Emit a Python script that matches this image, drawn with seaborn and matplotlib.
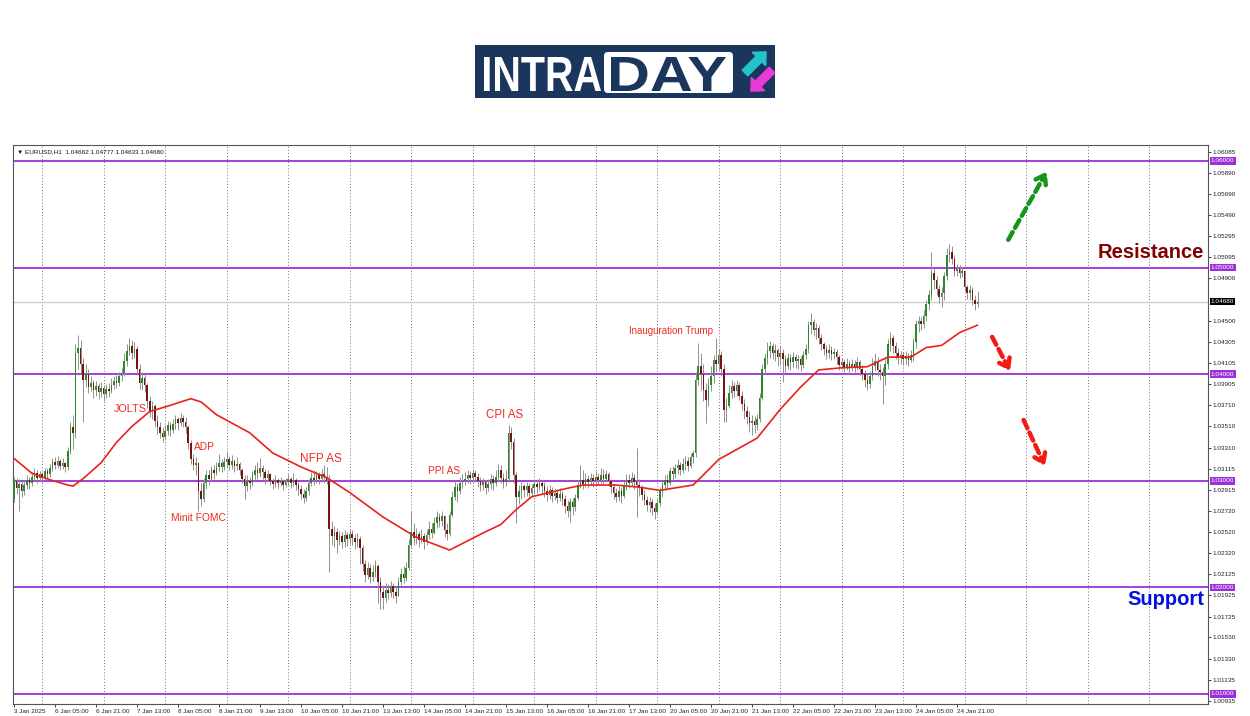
import numpy as np
import pandas as pd
import matplotlib
matplotlib.use("Agg")
import matplotlib.pyplot as plt
import seaborn as sns
from matplotlib.patches import Rectangle, FancyBboxPatch, FancyArrow, PathPatch
from matplotlib.textpath import TextPath
from matplotlib.font_manager import FontProperties
from matplotlib.transforms import Affine2D

# EURUSD H1, bars from 3 Jan 2025 13:00 to 27 Jan 2025 05:00
first_open = 1.0283
closes = [
    1.0300, 1.0293, 1.0297, 1.0290, 1.0296, 1.0301, 1.0298, 1.0304, 1.0307, 1.0303, 1.0306,
    1.0303, 1.0309, 1.0306, 1.0312, 1.0318, 1.0315, 1.0319, 1.0314, 1.0317, 1.0313,
    1.0328, 1.0350, 1.0345, 1.0420, 1.0425, 1.0410, 1.0395, 1.0400, 1.0388, 1.0392,
    1.0385, 1.0389, 1.0383, 1.0387, 1.0381, 1.0386, 1.0384, 1.0390, 1.0394, 1.0392,
    1.0398, 1.0401, 1.0412, 1.0422, 1.0426, 1.0420, 1.0424, 1.0405, 1.0392, 1.0396,
    1.0390, 1.0375, 1.0365, 1.0370, 1.0356, 1.0350, 1.0345, 1.0341, 1.0347, 1.0352,
    1.0348, 1.0353, 1.0358, 1.0354, 1.0359, 1.0355, 1.0350, 1.0335, 1.0320, 1.0315,
    1.0317, 1.0290, 1.0283, 1.0298, 1.0305, 1.0302, 1.0310, 1.0307, 1.0313, 1.0317,
    1.0313, 1.0318, 1.0320, 1.0315, 1.0319, 1.0314, 1.0316, 1.0310, 1.0302, 1.0295,
    1.0300, 1.0298, 1.0305, 1.0310, 1.0307, 1.0312, 1.0308, 1.0303, 1.0306, 1.0300,
    1.0297, 1.0301, 1.0298, 1.0300, 1.0296, 1.0299, 1.0302, 1.0298, 1.0301, 1.0296,
    1.0292, 1.0288, 1.0284, 1.0290, 1.0298, 1.0303, 1.0301, 1.0305, 1.0302, 1.0306,
    1.0304, 1.0300, 1.0255, 1.0248, 1.0252, 1.0244, 1.0248, 1.0243, 1.0249, 1.0245,
    1.0250, 1.0246, 1.0243, 1.0245, 1.0237, 1.0222, 1.0212, 1.0218, 1.0210, 1.0214,
    1.0220, 1.0205, 1.0196, 1.0190, 1.0198, 1.0195, 1.0201, 1.0196, 1.0192, 1.0205,
    1.0213, 1.0209, 1.0218, 1.0240, 1.0252, 1.0246, 1.0250, 1.0244, 1.0248, 1.0243,
    1.0249, 1.0255, 1.0251, 1.0260, 1.0266, 1.0262, 1.0267, 1.0254, 1.0250, 1.0268,
    1.0285, 1.0294, 1.0290, 1.0298, 1.0300, 1.0302, 1.0305, 1.0303, 1.0307, 1.0304,
    1.0300, 1.0296, 1.0299, 1.0293, 1.0297, 1.0302, 1.0298, 1.0304, 1.0310, 1.0303,
    1.0299, 1.0302, 1.0345, 1.0336, 1.0305, 1.0285, 1.0290, 1.0295, 1.0291, 1.0295,
    1.0289, 1.0293, 1.0297, 1.0294, 1.0298, 1.0295, 1.0290, 1.0287, 1.0291, 1.0286,
    1.0289, 1.0284, 1.0288, 1.0283, 1.0276, 1.0272, 1.0280, 1.0275, 1.0284, 1.0296,
    1.0301, 1.0297, 1.0302, 1.0299, 1.0303, 1.0300, 1.0304, 1.0301, 1.0305, 1.0302,
    1.0306, 1.0300, 1.0294, 1.0289, 1.0285, 1.0290, 1.0286, 1.0295, 1.0301, 1.0298,
    1.0303, 1.0299, 1.0296, 1.0293, 1.0287, 1.0282, 1.0277, 1.0280, 1.0274, 1.0271,
    1.0279, 1.0290, 1.0296, 1.0301, 1.0298, 1.0309, 1.0306, 1.0312, 1.0315, 1.0310,
    1.0316, 1.0319, 1.0314, 1.0322, 1.0326, 1.0395, 1.0408, 1.0400, 1.0385, 1.0376,
    1.0390, 1.0398, 1.0413, 1.0410, 1.0418, 1.0405, 1.0366, 1.0370, 1.0382, 1.0389,
    1.0384, 1.0390, 1.0380, 1.0372, 1.0365, 1.0360, 1.0354, 1.0356, 1.0352, 1.0358,
    1.0378, 1.0405, 1.0415, 1.0422, 1.0426, 1.0420, 1.0423, 1.0416, 1.0420, 1.0414,
    1.0408, 1.0415, 1.0411, 1.0416, 1.0412, 1.0414, 1.0409, 1.0418, 1.0424, 1.0446,
    1.0449, 1.0441, 1.0443, 1.0434, 1.0428, 1.0424, 1.0420, 1.0423, 1.0419, 1.0421,
    1.0416, 1.0409, 1.0411, 1.0407, 1.0410, 1.0406, 1.0410, 1.0407, 1.0411, 1.0405,
    1.0400, 1.0395, 1.0391, 1.0398, 1.0408, 1.0412, 1.0404, 1.0402, 1.0398, 1.0410,
    1.0428, 1.0434, 1.0426, 1.0420, 1.0416, 1.0418, 1.0414, 1.0417, 1.0413, 1.0418,
    1.0430, 1.0447, 1.0450, 1.0447, 1.0455, 1.0466, 1.0474, 1.0495, 1.0488, 1.0480,
    1.0472, 1.0476, 1.0492, 1.0512, 1.0515, 1.0508, 1.0497, 1.0499, 1.0495, 1.0497,
    1.0482, 1.0476, 1.0479, 1.0470, 1.0466, 1.0468,
]
highs = [
    1.0304, 1.0303, 1.0302, 1.0300, 1.0301, 1.0305, 1.0304, 1.0308, 1.0312, 1.0310, 1.0309,
    1.0308, 1.0312, 1.0312, 1.0316, 1.0321, 1.0322, 1.0323, 1.0320, 1.0321, 1.0318,
    1.0332, 1.0355, 1.0362, 1.0428, 1.0437, 1.0432, 1.0415, 1.0410, 1.0405, 1.0398,
    1.0395, 1.0394, 1.0392, 1.0393, 1.0390, 1.0391, 1.0392, 1.0396, 1.0398, 1.0399,
    1.0402, 1.0406, 1.0420, 1.0428, 1.0434, 1.0432, 1.0430, 1.0426, 1.0410, 1.0402,
    1.0400, 1.0392, 1.0380, 1.0375, 1.0372, 1.0362, 1.0355, 1.0350, 1.0352, 1.0356,
    1.0355, 1.0358, 1.0362, 1.0360, 1.0364, 1.0362, 1.0360, 1.0352, 1.0338, 1.0325,
    1.0322, 1.0318, 1.0298, 1.0303, 1.0310, 1.0310, 1.0314, 1.0315, 1.0318, 1.0325,
    1.0320, 1.0322, 1.0327, 1.0323, 1.0324, 1.0320, 1.0322, 1.0318, 1.0312, 1.0305,
    1.0305, 1.0304, 1.0309, 1.0315, 1.0318, 1.0321, 1.0315, 1.0311, 1.0310, 1.0307,
    1.0303, 1.0305, 1.0303, 1.0304, 1.0302, 1.0303, 1.0306, 1.0304, 1.0307, 1.0303,
    1.0299, 1.0296, 1.0292, 1.0294, 1.0302, 1.0308, 1.0310, 1.0309, 1.0308, 1.0311,
    1.0315, 1.0313, 1.0305, 1.0262, 1.0258, 1.0256, 1.0253, 1.0252, 1.0254, 1.0252,
    1.0255, 1.0254, 1.0250, 1.0251, 1.0248, 1.0240, 1.0226, 1.0224, 1.0222, 1.0221,
    1.0226, 1.0222, 1.0210, 1.0202, 1.0204, 1.0203, 1.0206, 1.0204, 1.0200, 1.0210,
    1.0218, 1.0220, 1.0224, 1.0245, 1.0272, 1.0260, 1.0256, 1.0253, 1.0255, 1.0251,
    1.0254, 1.0262, 1.0260, 1.0266, 1.0272, 1.0270, 1.0272, 1.0268, 1.0260, 1.0272,
    1.0290, 1.0300, 1.0298, 1.0304, 1.0306, 1.0308, 1.0310, 1.0309, 1.0311, 1.0310,
    1.0307, 1.0304, 1.0303, 1.0301, 1.0302, 1.0306, 1.0305, 1.0310, 1.0316, 1.0315,
    1.0307, 1.0310, 1.0352, 1.0350, 1.0340, 1.0308, 1.0296, 1.0299, 1.0297, 1.0299,
    1.0298, 1.0297, 1.0301, 1.0302, 1.0303, 1.0301, 1.0299, 1.0295, 1.0296, 1.0294,
    1.0293, 1.0292, 1.0293, 1.0290, 1.0287, 1.0282, 1.0284, 1.0284, 1.0288, 1.0301,
    1.0315, 1.0310, 1.0307, 1.0305, 1.0307, 1.0306, 1.0309, 1.0307, 1.0312, 1.0311,
    1.0310, 1.0308, 1.0302, 1.0297, 1.0293, 1.0295, 1.0294, 1.0300, 1.0306, 1.0306,
    1.0308, 1.0306, 1.0331, 1.0302, 1.0296, 1.0291, 1.0286, 1.0285, 1.0283, 1.0279,
    1.0283, 1.0294, 1.0300, 1.0305, 1.0306, 1.0313, 1.0314, 1.0316, 1.0320, 1.0318,
    1.0321, 1.0323, 1.0322, 1.0326, 1.0329, 1.0402, 1.0429, 1.0420, 1.0410, 1.0392,
    1.0396, 1.0408, 1.0418, 1.0434, 1.0424, 1.0422, 1.0410, 1.0378, 1.0390, 1.0395,
    1.0393, 1.0395, 1.0393, 1.0384, 1.0377, 1.0370, 1.0365, 1.0362, 1.0361, 1.0363,
    1.0382, 1.0410, 1.0420, 1.0430, 1.0431, 1.0429, 1.0428, 1.0425, 1.0426, 1.0424,
    1.0418, 1.0420, 1.0419, 1.0421, 1.0419, 1.0418, 1.0417, 1.0422, 1.0428, 1.0450,
    1.0457, 1.0452, 1.0448, 1.0446, 1.0438, 1.0430, 1.0427, 1.0428, 1.0426, 1.0425,
    1.0424, 1.0418, 1.0415, 1.0414, 1.0415, 1.0413, 1.0414, 1.0413, 1.0416, 1.0413,
    1.0409, 1.0404, 1.0400, 1.0403, 1.0415, 1.0420, 1.0416, 1.0410, 1.0407, 1.0415,
    1.0433, 1.0440, 1.0437, 1.0430, 1.0425, 1.0422, 1.0421, 1.0422, 1.0420, 1.0423,
    1.0434, 1.0451, 1.0455, 1.0454, 1.0460, 1.0470, 1.0479, 1.0515, 1.0500, 1.0492,
    1.0484, 1.0482, 1.0496, 1.0518, 1.0522, 1.0520, 1.0512, 1.0503, 1.0502, 1.0501,
    1.0490, 1.0484, 1.0484, 1.0482, 1.0474, 1.0478,
]
lows = [
    1.0280, 1.0288, 1.0272, 1.0285, 1.0287, 1.0292, 1.0292, 1.0295, 1.0300, 1.0298, 1.0300,
    1.0298, 1.0301, 1.0302, 1.0304, 1.0309, 1.0311, 1.0312, 1.0310, 1.0311, 1.0308,
    1.0310, 1.0325, 1.0330, 1.0340, 1.0405, 1.0400, 1.0355, 1.0388, 1.0382, 1.0384,
    1.0378, 1.0380, 1.0377, 1.0379, 1.0375, 1.0378, 1.0379, 1.0382, 1.0386, 1.0387,
    1.0389, 1.0394, 1.0398, 1.0408, 1.0418, 1.0414, 1.0415, 1.0400, 1.0386, 1.0385,
    1.0383, 1.0368, 1.0360, 1.0358, 1.0350, 1.0344, 1.0340, 1.0336, 1.0338, 1.0343,
    1.0342, 1.0345, 1.0349, 1.0348, 1.0351, 1.0350, 1.0345, 1.0330, 1.0316, 1.0310,
    1.0305, 1.0272, 1.0276, 1.0280, 1.0292, 1.0296, 1.0300, 1.0302, 1.0305, 1.0309,
    1.0308, 1.0310, 1.0312, 1.0310, 1.0311, 1.0308, 1.0310, 1.0305, 1.0298, 1.0283,
    1.0290, 1.0292, 1.0295, 1.0301, 1.0302, 1.0304, 1.0302, 1.0297, 1.0300, 1.0296,
    1.0292, 1.0294, 1.0293, 1.0295, 1.0291, 1.0294, 1.0296, 1.0293, 1.0295, 1.0291,
    1.0287, 1.0283, 1.0279, 1.0281, 1.0287, 1.0295, 1.0296, 1.0298, 1.0297, 1.0299,
    1.0298, 1.0297, 1.0214, 1.0240, 1.0238, 1.0232, 1.0240, 1.0237, 1.0238, 1.0239,
    1.0241, 1.0240, 1.0236, 1.0238, 1.0222, 1.0215, 1.0205, 1.0208, 1.0204, 1.0206,
    1.0210, 1.0185, 1.0180, 1.0180, 1.0186, 1.0189, 1.0191, 1.0190, 1.0185, 1.0192,
    1.0202, 1.0204, 1.0206, 1.0216, 1.0238, 1.0240, 1.0241, 1.0238, 1.0242, 1.0236,
    1.0240, 1.0245, 1.0246, 1.0250, 1.0256, 1.0257, 1.0258, 1.0247, 1.0244, 1.0248,
    1.0266, 1.0282, 1.0280, 1.0288, 1.0293, 1.0296, 1.0298, 1.0297, 1.0299, 1.0299,
    1.0294, 1.0290, 1.0291, 1.0288, 1.0290, 1.0292, 1.0291, 1.0295, 1.0300, 1.0298,
    1.0293, 1.0295, 1.0299, 1.0330, 1.0298, 1.0260, 1.0278, 1.0283, 1.0285, 1.0286,
    1.0284, 1.0286, 1.0288, 1.0289, 1.0291, 1.0289, 1.0285, 1.0281, 1.0283, 1.0280,
    1.0282, 1.0279, 1.0281, 1.0277, 1.0270, 1.0266, 1.0261, 1.0268, 1.0272, 1.0282,
    1.0293, 1.0292, 1.0294, 1.0293, 1.0296, 1.0294, 1.0297, 1.0296, 1.0298, 1.0297,
    1.0299, 1.0295, 1.0289, 1.0283, 1.0280, 1.0281, 1.0279, 1.0284, 1.0291, 1.0293,
    1.0295, 1.0292, 1.0266, 1.0286, 1.0282, 1.0277, 1.0272, 1.0271, 1.0268, 1.0264,
    1.0270, 1.0276, 1.0285, 1.0291, 1.0293, 1.0296, 1.0301, 1.0303, 1.0306, 1.0305,
    1.0307, 1.0310, 1.0309, 1.0312, 1.0317, 1.0322, 1.0390, 1.0385, 1.0375, 1.0354,
    1.0370, 1.0384, 1.0392, 1.0402, 1.0404, 1.0398, 1.0355, 1.0355, 1.0368, 1.0378,
    1.0379, 1.0380, 1.0376, 1.0366, 1.0358, 1.0353, 1.0346, 1.0343, 1.0345, 1.0348,
    1.0355, 1.0376, 1.0400, 1.0410, 1.0415, 1.0414, 1.0412, 1.0408, 1.0410, 1.0393,
    1.0402, 1.0405, 1.0404, 1.0407, 1.0406, 1.0405, 1.0403, 1.0406, 1.0414, 1.0420,
    1.0438, 1.0436, 1.0433, 1.0428, 1.0423, 1.0418, 1.0414, 1.0415, 1.0413, 1.0414,
    1.0410, 1.0404, 1.0405, 1.0402, 1.0404, 1.0400, 1.0403, 1.0402, 1.0404, 1.0399,
    1.0395, 1.0388, 1.0385, 1.0387, 1.0395, 1.0403, 1.0398, 1.0395, 1.0372, 1.0390,
    1.0405, 1.0422, 1.0420, 1.0414, 1.0410, 1.0410, 1.0409, 1.0410, 1.0408, 1.0411,
    1.0412, 1.0425, 1.0440, 1.0441, 1.0443, 1.0450, 1.0460, 1.0470, 1.0480, 1.0474,
    1.0467, 1.0463, 1.0470, 1.0488, 1.0505, 1.0503, 1.0492, 1.0492, 1.0490, 1.0491,
    1.0478, 1.0471, 1.0470, 1.0465, 1.0460, 1.0463,
]

# moving average (red line), sampled along the curve
ma_bar = [0, 7, 14, 21, 23, 27, 34, 40, 46, 53, 60, 69, 73, 79, 92, 101, 112, 122, 131, 144,
          157, 170, 183, 190, 196, 202, 209, 216, 222, 235, 244, 252, 265, 268, 275, 290, 299,
          307, 314, 323, 333, 341, 350, 356, 362, 369, 376]
ma_val = [1.0321, 1.0307, 1.0301, 1.0296, 1.0295, 1.0302, 1.0317, 1.0336, 1.0351, 1.0365,
          1.0370, 1.0377, 1.0374, 1.0362, 1.0345, 1.0326, 1.0313, 1.0303, 1.0289, 1.0266,
          1.0247, 1.0235, 1.0251, 1.0259, 1.0273, 1.0285, 1.0289, 1.0293, 1.0296, 1.0296,
          1.0294, 1.0291, 1.0296, 1.0303, 1.0320, 1.0340, 1.0367, 1.0388, 1.0404, 1.0406,
          1.0407, 1.0416, 1.0416, 1.0425, 1.0427, 1.0439, 1.0446]

levels = [1.06, 1.05, 1.04, 1.03, 1.02, 1.01]
last_price = 1.0468

price_ticks = [1.06085, 1.05890, 1.05690, 1.05490, 1.05295, 1.05095, 1.04900, 1.04500,
               1.04305, 1.04105, 1.03905, 1.03710, 1.03510, 1.03310, 1.03115, 1.02915,
               1.02720, 1.02520, 1.02320, 1.02125, 1.01925, 1.01725, 1.01530, 1.01330,
               1.01135, 1.00935]
time_labels = ["3 Jan 2025", "6 Jan 05:00", "6 Jan 21:00", "7 Jan 13:00", "8 Jan 05:00",
               "8 Jan 21:00", "9 Jan 13:00", "10 Jan 05:00", "10 Jan 21:00", "13 Jan 13:00",
               "14 Jan 05:00", "14 Jan 21:00", "15 Jan 13:00", "16 Jan 05:00", "16 Jan 21:00",
               "17 Jan 13:00", "20 Jan 05:00", "20 Jan 21:00", "21 Jan 13:00", "22 Jan 05:00",
               "22 Jan 21:00", "23 Jan 13:00", "24 Jan 05:00", "24 Jan 21:00"]

df = pd.DataFrame({"close": closes, "high": highs, "low": lows})
df["open"] = [first_open] + closes[:-1]
df["bar"] = np.arange(len(df))
body_lo = df[["open", "close"]].min(axis=1)
body_hi = df[["open", "close"]].max(axis=1)
up = df["close"] >= df["open"]

sns.set_theme(style="ticks")
plt.rcParams["font.family"] = ["Liberation Sans", "DejaVu Sans"]

fig = plt.figure(figsize=(12.5, 7.16), dpi=100)
ax = fig.add_axes([13 / 1250, 12 / 716, 1195 / 1250, 559 / 716])

# daily separators (every 24 hourly bars, first midnight is bar 11)
for d in range(11, 470, 24):
    ax.axvline(d, color="#707070", lw=0.7, ls=(0, (1, 2.2)), zorder=0)

for lv in levels:
    ax.axhline(lv, color="#9b30d9", lw=1.3, zorder=1)
ax.axhline(last_price, color="#cfcfcf", lw=1.0, zorder=1)

# candles
ax.vlines(df["bar"], np.minimum(df["low"], body_lo), np.maximum(df["high"], body_hi),
          color="#909090", lw=0.7, zorder=2)
ax.bar(df["bar"], np.maximum(body_hi - body_lo, 0.00003), bottom=body_lo, width=0.62,
       color=np.where(up, "#2a8a2a", "#741414"), linewidth=0, zorder=3)

sns.lineplot(x=ma_bar, y=ma_val, ax=ax, color="#e8231d", lw=1.2, zorder=4)

ax.set_xlim(-0.39, 465.95)
ax.set_ylim(1.00906, 1.06150)

ax.yaxis.tick_right()
ax.set_yticks(price_ticks)
ax.set_yticklabels([f"{v:.5f}" for v in price_ticks])
ax.set_xticks(np.arange(len(time_labels)) * 16)
ax.set_xticklabels(time_labels, ha="left")
ax.tick_params(axis="both", labelsize=4.6, length=2, width=0.6, pad=1.5, colors="#222222")
for s in ax.spines.values():
    s.set_color("#555555")
    s.set_linewidth(0.8)
    s.set_visible(True)

for lv in levels:
    ax.annotate(f"{lv:.5f}", xy=(1, lv), xycoords=("axes fraction", "data"),
                xytext=(2, 0), textcoords="offset points", ha="left", va="center",
                fontsize=4.6, color="white", annotation_clip=False,
                bbox=dict(boxstyle="square,pad=0.2", fc="#9b30d9", ec="none"))
ax.annotate(f"{last_price:.5f}", xy=(1, last_price), xycoords=("axes fraction", "data"),
            xytext=(2, 0), textcoords="offset points", ha="left", va="center",
            fontsize=4.6, color="white", annotation_clip=False,
            bbox=dict(boxstyle="square,pad=0.2", fc="black", ec="none"))

ax.text(0.003, 0.993, "\u25bc EURUSD,H1  1.04662 1.04777 1.04633 1.04680", transform=ax.transAxes,
        ha="left", va="top", fontsize=4.6, color="#111111")

red = "#ee2b24"
ax.text(45.3, 1.03674, "JOLTS", color=red, fontsize=7.8, ha="center", va="center")
ax.text(74.5, 1.03317, "ADP", color=red, fontsize=7.3, ha="center", va="center")
ax.text(71.8, 1.02651, "Minit FOMC", color=red, fontsize=7.4, ha="center", va="center")
ax.text(119.8, 1.03205, "NFP AS", color=red, fontsize=8.5, ha="center", va="center")
ax.text(167.8, 1.03093, "PPI AS", color=red, fontsize=7.3, ha="center", va="center")
ax.text(191.6, 1.03619, "CPI AS", color=red, fontsize=8.3, ha="center", va="center")
ax.text(256.4, 1.04406, "Inauguration Trump", color=red, fontsize=7.0, ha="center", va="center")

ax.text(464.2, 1.05137, "Resistance", color="#820000", fontsize=14.5, fontweight="bold",
        ha="right", va="center")
ax.text(464.4, 1.01882, "Support", color="#0010e0", fontsize=14.5, fontweight="bold",
        ha="right", va="center")

arrow_dash = (0, (2.0, 1.1))
ax.annotate("", xy=(403, 1.0590), xytext=(388, 1.0526),
            arrowprops=dict(arrowstyle="->,head_length=0.5,head_width=0.35", color="#14961a",
                            lw=3.2, linestyle=arrow_dash, shrinkA=0, shrinkB=0))
ax.annotate("", xy=(388.7, 1.0403), xytext=(381.7, 1.0435),
            arrowprops=dict(arrowstyle="->,head_length=0.5,head_width=0.35", color="#f21a12",
                            lw=3.2, linestyle=arrow_dash, shrinkA=0, shrinkB=0))
ax.annotate("", xy=(402.3, 1.0314), xytext=(394, 1.0357),
            arrowprops=dict(arrowstyle="->,head_length=0.5,head_width=0.35", color="#f21a12",
                            lw=3.2, linestyle=arrow_dash, shrinkA=0, shrinkB=0))

# logo drawn in a pixel-space overlay
lax = fig.add_axes([0, 0, 1, 1], zorder=5)
lax.set_xlim(0, 1250)
lax.set_ylim(716, 0)
lax.axis("off")
lax.patch.set_alpha(0)
navy = "#1b365d"
lax.add_patch(Rectangle((475, 45), 300, 53, fc=navy, ec="none"))
lax.add_patch(FancyBboxPatch((604, 52), 129, 41, boxstyle="round,pad=0,rounding_size=4",
                             fc="white", ec="none"))

logo_font = FontProperties(family="Liberation Sans", weight="bold")


def fitted_word(word, x0, x1, ytop, ybot, color):
    tp = TextPath((0, 0), word, size=1, prop=logo_font)
    ext = tp.get_extents()
    tr = (Affine2D().translate(-ext.x0, -ext.y0)
          .scale((x1 - x0) / ext.width, -(ybot - ytop) / ext.height)
          .translate(x0, ybot))
    lax.add_patch(PathPatch(tr.transform_path(tp), fc=color, ec="none"))


fitted_word("INTRA", 484, 601, 57, 91, "white")
fitted_word("DAY", 611, 726, 57, 91, navy)
lax.add_patch(FancyArrow(745, 73, 14, -14, width=8, head_width=19, head_length=10,
                         length_includes_head=False, color="#22c3c9"))
lax.add_patch(FancyArrow(772, 70, -14, 14, width=8, head_width=19, head_length=10,
                         length_includes_head=False, color="#e83ad6"))

fig.savefig("out.png", dpi=100, facecolor="white")
